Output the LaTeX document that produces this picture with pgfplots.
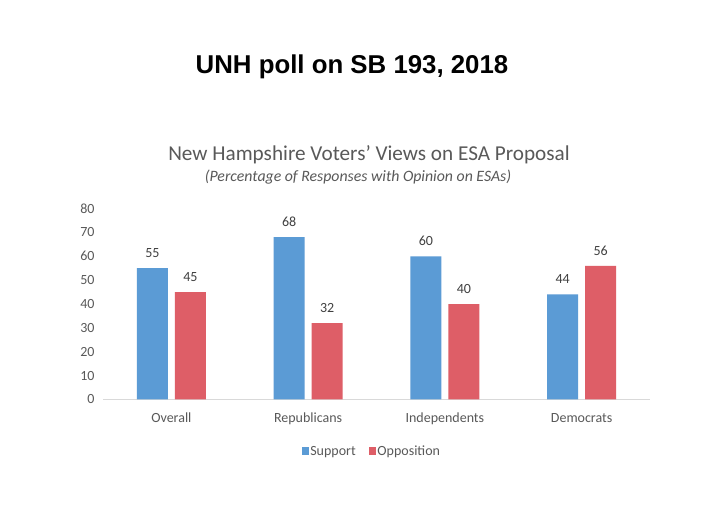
\documentclass[border=0pt]{standalone}
\usepackage{pgfplots}
\pgfplotsset{compat=1.18}
\usepackage{fontspec}
\setmainfont{Carlito}
\newfontfamily\titlefont{Liberation Sans}
\definecolor{sup}{HTML}{5B9BD5}
\definecolor{opp}{HTML}{DE5E67}
\definecolor{txt}{HTML}{595959}
\definecolor{lab}{HTML}{404040}
\begin{document}
\begin{tikzpicture}
\path[use as bounding box, fill=white] (0,0) rectangle (705bp,529bp);
\node[anchor=base, font=\titlefont\bfseries\fontsize{25.8bp}{30bp}\selectfont] at (352bp,455bp) {UNH poll on SB 193, 2018};
\node[anchor=base, text=txt, font=\fontsize{21.2bp}{25bp}\selectfont] at (369bp,368bp) {New Hampshire Voters' Views on ESA Proposal};
\node[anchor=base, text=txt, font=\itshape\fontsize{15.8bp}{19bp}\selectfont] at (358bp,347.5bp) {(Percentage of Responses with Opinion on ESAs)};
\begin{axis}[
  at={(103bp,129.5bp)}, anchor=south west,
  scale only axis, width=547bp, height=191bp,
  xmin=-0.5, xmax=3.5, ymin=0, ymax=80,
  ybar=7bp, bar width=31bp,
  xtick={0,1,2,3},
  xticklabels={Overall,Republicans,Independents,Democrats},
  ytick={0,10,...,80},
  axis x line=bottom, axis y line=left,
  axis line style={-},
  x axis line style={draw=black!15},
  y axis line style={draw=none},
  major tick length=0pt,
  tick style={draw=none},
  /pgf/number format/assume math mode=true,
  ticklabel style={text=txt, font=\fontsize{14bp}{16bp}\selectfont},
  xticklabel style={font=\fontsize{14bp}{16bp}\selectfont, yshift=-10bp},
  yticklabel style={xshift=-5bp},
  nodes near coords,
  nodes near coords style={text=lab, font=\fontsize{14bp}{16bp}\selectfont, yshift=7bp},
  legend columns=2,
  legend style={at={(0.4905,-0.282)}, anchor=center, draw=none, fill=none,
    font=\fontsize{14bp}{16bp}\selectfont, text=txt,
    nodes={inner sep=1bp, text height=7bp, text depth=3bp, anchor=west},
    /tikz/every even column/.append style={column sep=12bp}},
  legend image code/.code={\fill[#1] (0bp,-1.5bp) rectangle (7.7bp,6bp);},
]
\addplot[fill=sup, draw=none] coordinates {(0,55) (1,68) (2,60) (3,44)};
\addplot[fill=opp, draw=none] coordinates {(0,45) (1,32) (2,40) (3,56)};
\legend{Support,Opposition}
\end{axis}
\end{tikzpicture}
\end{document}
